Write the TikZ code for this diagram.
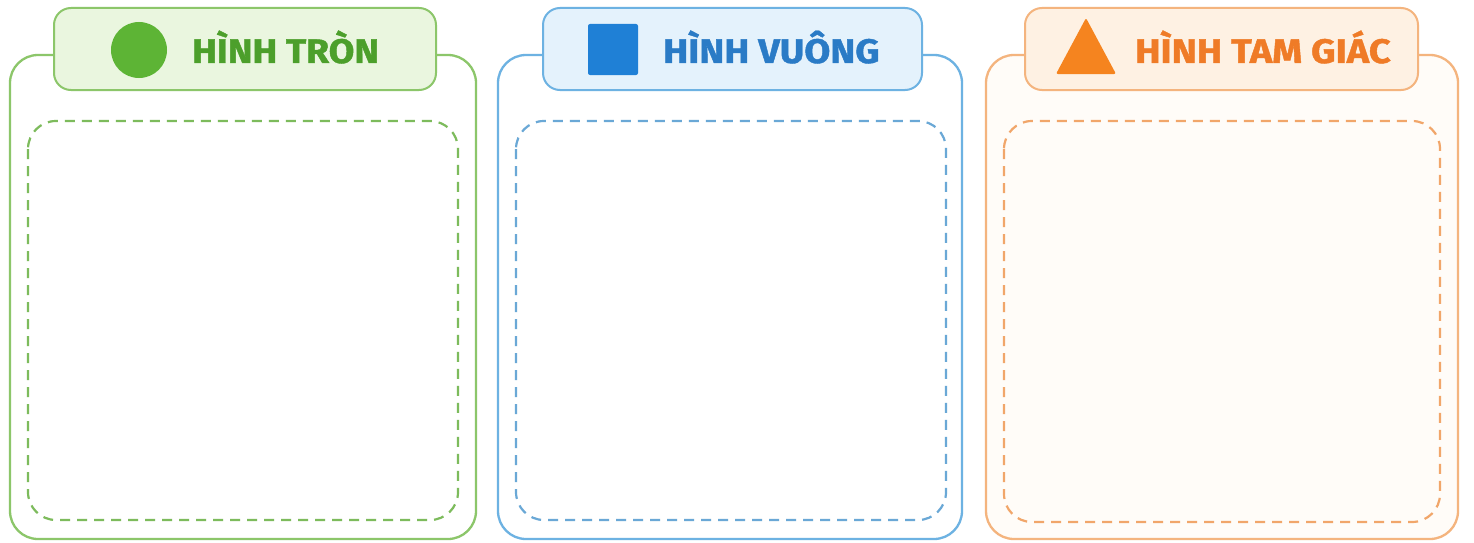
\documentclass[tikz,border=0pt]{standalone}
\usepackage{fontspec}
\setmainfont{Fira Sans}[BoldFeatures={FakeBold=1.2}]
\begin{document}
\begin{tikzpicture}[x=1pt,y=-1pt,
  outerbox/.style={line width=2.3pt, rounded corners=28pt},
  headbox/.style={line width=2pt, rounded corners=17pt},
  dashbox/.style={line width=2.2pt, rounded corners=28pt, dash pattern=on 10pt off 7pt},
  headtext/.style={anchor=base west, inner sep=0pt, font=\fontsize{34}{34}\selectfont\bfseries}]
\definecolor{gline}{HTML}{8CC66A}
\definecolor{gfill}{HTML}{EAF6DF}
\definecolor{gdash}{HTML}{7DBB5C}
\definecolor{gshape}{HTML}{5DB435}
\definecolor{gtext}{HTML}{4C9F2B}
\definecolor{bline}{HTML}{6DB2E2}
\definecolor{bfill}{HTML}{E4F2FC}
\definecolor{bdash}{HTML}{6AA8D6}
\definecolor{bshape}{HTML}{1F80D6}
\definecolor{btext}{HTML}{2A7BC6}
\definecolor{oline}{HTML}{F4B47E}
\definecolor{ofill}{HTML}{FEF1E3}
\definecolor{odash}{HTML}{F1A66A}
\definecolor{oshape}{HTML}{F5841F}
\definecolor{otext}{HTML}{EF7B27}
\definecolor{opanel}{HTML}{FFFCF8}
\useasboundingbox[fill=white] (0,0) rectangle (1474,543);
% panel 1
\draw[outerbox, gline, fill=white] (10,55) rectangle (476,539);
\draw[dashbox, gdash] (28,121) rectangle (458,520);
\draw[headbox, gline, fill=gfill] (54,8) rectangle (436,90);
\fill[gshape] (139,50) circle (28);
\node[headtext, text=gtext] (t1) at (192,63) {\scalebox{1.094}[1]{HÌNH TRÒN}};
% panel 2
\draw[outerbox, bline, fill=white] (498,55) rectangle (962,539);
\draw[dashbox, bdash] (516,121) rectangle (946,520);
\draw[headbox, bline, fill=bfill] (543,8) rectangle (922,90);
\fill[bshape, rounded corners=2pt] (588,24) rectangle (638,75);
\node[headtext, text=btext] (t2) at (663,63) {\scalebox{1.108}[1]{HÌNH VUÔNG}};
% panel 3
\draw[outerbox, oline, fill=opanel] (986,55) rectangle (1458,539);
\draw[dashbox, odash] (1004,121) rectangle (1440,522);
\draw[headbox, oline, fill=ofill] (1025,8) rectangle (1418,90);
\fill[oshape, rounded corners=2pt] (1086,18) -- (1116,74) -- (1056,74) -- cycle;
\node[headtext, text=otext] (t3) at (1135,63) {\scalebox{1.118}[1]{HÌNH TAM GIÁC}};
\end{tikzpicture}
\end{document}
